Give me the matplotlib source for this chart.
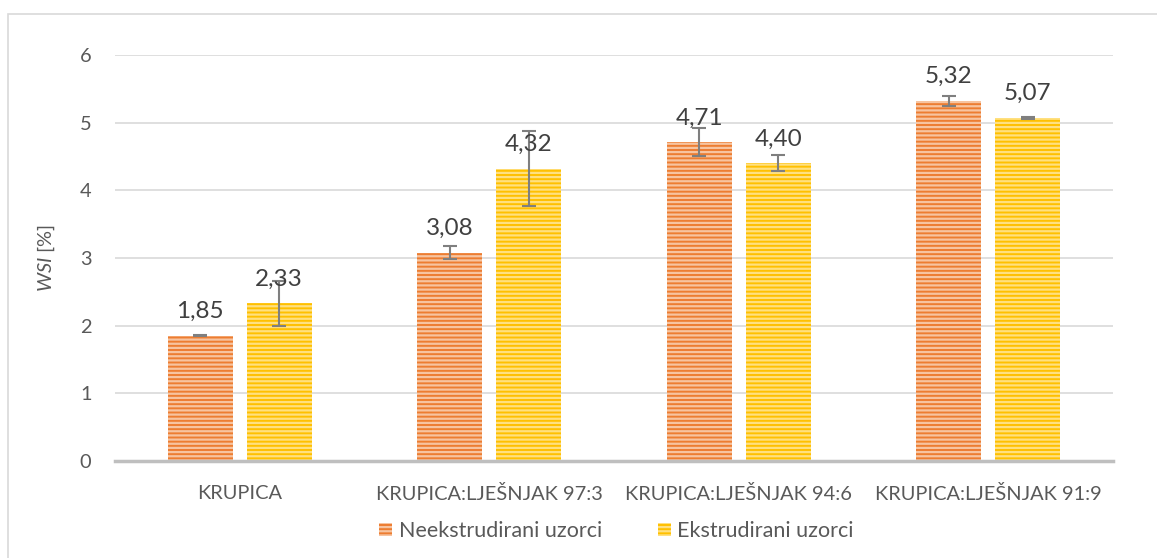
import matplotlib
matplotlib.use("Agg")
import matplotlib.pyplot as plt
import matplotlib.patches as mpatches
import numpy as np

plt.rcParams['font.family'] = ['Lato', 'DejaVu Sans']
plt.rcParams['mathtext.fontset'] = 'custom'
plt.rcParams['mathtext.it'] = 'Lato:italic'
plt.rcParams['mathtext.rm'] = 'Lato'
plt.rcParams['hatch.linewidth'] = 1.6

categories = ["KRUPICA", "KRUPICA:LJEŠNJAK 97:3", "KRUPICA:LJEŠNJAK 94:6",
              "KRUPICA:LJEŠNJAK 91:9"]
neekstrudirani = [1.85, 3.08, 4.71, 5.32]
neekstrudirani_err = [0.01, 0.10, 0.21, 0.07]
ekstrudirani = [2.33, 4.32, 4.40, 5.07]
ekstrudirani_err = [0.33, 0.55, 0.12, 0.02]
series_names = ["Neekstrudirani uzorci", "Ekstrudirani uzorci"]

text_col = "#595959"
orange = "#ED7D31"
yellow = "#FFC000"

fig = plt.figure(figsize=(11.57, 5.58), dpi=100)
ax = fig.add_axes([0.0994, 0.174, 0.8626, 0.7274])

# outer frame of the chart
fig.patches.append(mpatches.Rectangle((8 / 1157, -0.05), 1.1, 1.05 - 14 / 558,
                                      transform=fig.transFigure, fill=False,
                                      edgecolor="#D9D9D9", linewidth=1.2))

x = np.arange(len(categories))
w = 0.26
off = 0.158

b1 = ax.bar(x - off, neekstrudirani, w, color=orange, edgecolor="#F7C4A0",
            linewidth=0, hatch="----", zorder=2, label=series_names[0])
b2 = ax.bar(x + off, ekstrudirani, w, color=yellow, edgecolor="#FFE080",
            linewidth=0, hatch="----", zorder=2, label=series_names[1])

ax.errorbar(x - off, neekstrudirani, yerr=neekstrudirani_err, fmt="none",
            ecolor="#7F7F7F", elinewidth=1.5, capsize=5, capthick=1.5, zorder=3)
ax.errorbar(x + off, ekstrudirani, yerr=ekstrudirani_err, fmt="none",
            ecolor="#7F7F7F", elinewidth=1.5, capsize=5, capthick=1.5, zorder=3)

for xs, vals in [(x - off, neekstrudirani), (x + off, ekstrudirani)]:
    for xi, v in zip(xs, vals):
        ax.text(xi, v + 0.36, f"{v:.2f}".replace(".", ","), ha="center",
                va="center", fontsize=17.5, color="#404040", zorder=4)

ax.set_xlim(-0.5, len(categories) - 0.5)
ax.set_ylim(0, 6)
ax.set_yticks(range(0, 7))
ax.set_xticks(x)
ax.set_xticklabels(categories)
ax.tick_params(axis="both", length=0, labelsize=14.4, colors=text_col)
ax.tick_params(axis="x", pad=17)
ax.tick_params(axis="y", pad=17)
ax.yaxis.grid(True, color="#D9D9D9", linewidth=1.2, zorder=0)
ax.set_axisbelow(True)
for s in ["top", "right", "left"]:
    ax.spines[s].set_visible(False)
ax.spines["bottom"].set_color("#BFBFBF")
ax.spines["bottom"].set_linewidth(2.5)
ax.spines["bottom"].set_zorder(5)

ax.set_ylabel(r"$\it{WSI}$ [%]", fontsize=14.4, color=text_col, labelpad=16)

fig.legend(handles=[b1, b2], labels=series_names, loc="center",
           bbox_to_anchor=(0.533, 0.048), ncol=2, frameon=False,
           fontsize=15.5, labelcolor=text_col, handlelength=0.6,
           handleheight=0.6, handletextpad=0.3, columnspacing=2.6)

fig.savefig("out.png", dpi=100)
